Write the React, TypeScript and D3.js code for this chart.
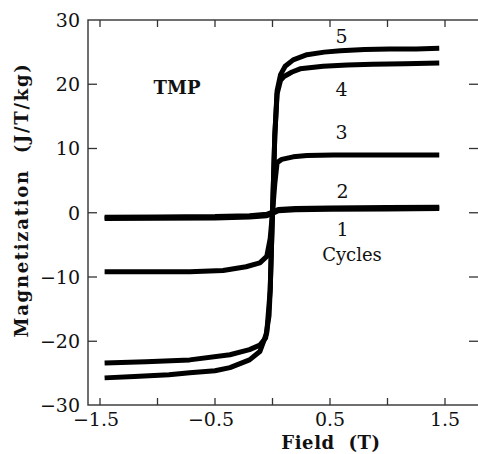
import React from 'react';
import * as d3 from 'd3';

// cycle 5
const field5 = [-1.46, -1.2, -0.9, -0.72, -0.5, -0.37, -0.2, -0.11, -0.05, -0.02, -0.01, 0, 0.01, 0.02, 0.04, 0.07, 0.11, 0.18, 0.3, 0.45, 0.59, 0.8, 1.02, 1.25, 1.45];
const mag5 = [-25.7, -25.5, -25.2, -24.9, -24.6, -24.1, -22.9, -21.6, -18.7, -12, -6, 0, 6, 12, 19, 21.5, 22.8, 23.8, 24.6, 25.0, 25.2, 25.4, 25.5, 25.5, 25.6];
// cycle 4
const field4 = [-1.46, -1.1, -0.72, -0.37, -0.2, -0.11, -0.06, -0.03, -0.02, -0.01, 0, 0.01, 0.02, 0.04, 0.07, 0.1, 0.17, 0.24, 0.44, 0.65, 0.87, 1.15, 1.45];
const mag4 = [-23.4, -23.2, -22.9, -22.1, -21.3, -20.6, -19.5, -16, -12, -6, 0, 6, 12, 18.5, 20.6, 21.2, 21.9, 22.4, 22.8, 23.0, 23.1, 23.2, 23.3];
// cycle 3
const field3 = [-1.46, -1.1, -0.72, -0.43, -0.23, -0.11, -0.05, -0.02, 0, 0.02, 0.04, 0.08, 0.18, 0.3, 0.53, 0.9, 1.45];
const mag3 = [-9.2, -9.2, -9.2, -9.0, -8.4, -7.8, -6.8, -4, 0, 4.5, 7.8, 8.3, 8.7, 8.9, 9.0, 9.0, 9.0];
// cycles 1 and 2
const field12 = [-1.46, -1.0, -0.5, -0.2, -0.05, 0, 0.05, 0.2, 0.5, 1.0, 1.45];
const mag2 = [-0.7, -0.65, -0.6, -0.45, -0.25, 0.1, 0.5, 0.65, 0.75, 0.8, 0.85];
const mag1 = [-0.9, -0.85, -0.8, -0.65, -0.45, -0.1, 0.3, 0.45, 0.55, 0.6, 0.65];

const xTicks = [-1.5, -1.0, -0.5, 0, 0.5, 1.0, 1.5];
const xTickLabels = ['-1.5', '-0.5', '0.5', '1.5'];
const yTicks = [-30, -20, -10, 0, 10, 20, 30];

const curveLabels = ['5', '4', '3', '2', '1'];
const curveLabelPos = [[0.6, 27.5], [0.6, 19.2], [0.6, 12.5], [0.61, 3.3], [0.61, -2.6]];

const W = 478, H = 454;
const frame = { left: 88, right: 480, top: 20, bottom: 405 };

export default function App() {
  const x = d3.scaleLinear().domain([-1.5, 1.5]).range([100, 445]);
  const y = d3.scaleLinear().domain([-30, 30]).range([405.5, 20]);

  const line = d3.line<[number, number]>()
    .x(d => x(d[0]))
    .y(d => y(d[1]));

  const series: [number[], number[]][] = [
    [field5, mag5], [field4, mag4], [field3, mag3], [field12, mag2], [field12, mag1],
  ];

  const serif = '"DejaVu Serif", "Liberation Serif", serif';

  return (
    <svg width={W} height={H} style={{ position: 'absolute', left: 0, top: 0, background: '#fff' }}>
      {/* frame */}
      <rect x={frame.left} y={frame.top} width={frame.right - frame.left} height={frame.bottom - frame.top}
        fill="none" stroke="#333" strokeWidth={1.4} />

      {/* x ticks top and bottom */}
      {xTicks.map(t => (
        <g key={'xt' + t}>
          <line x1={x(t)} x2={x(t)} y1={frame.bottom} y2={frame.bottom - 7} stroke="#333" strokeWidth={1.3} />
          <line x1={x(t)} x2={x(t)} y1={frame.top} y2={frame.top + 7} stroke="#333" strokeWidth={1.3} />
        </g>
      ))}
      {xTickLabels.map(t => (
        <text key={'xl' + t} x={x(+t) + (t.startsWith('-') ? -4 : 0)} y={426} textAnchor="middle"
          fontFamily={serif} fontSize={19} fill="#111">{t.replace('-', '\u2212')}</text>
      ))}

      {/* y ticks left and right */}
      {yTicks.map(t => (
        <g key={'yt' + t}>
          {t > -30 && t < 30 && <line x1={frame.left} x2={frame.left + 9} y1={y(t)} y2={y(t)} stroke="#333" strokeWidth={1.3} />}
          {t > -30 && t < 30 && <line x1={469} x2={478} y1={y(t)} y2={y(t)} stroke="#333" strokeWidth={1.3} />}
          <text x={80} y={y(t)} dy="0.36em" textAnchor="end" fontFamily={serif} fontSize={19} fill="#111">
            {String(t).replace('-', '\u2212')}
          </text>
        </g>
      ))}

      {/* curves */}
      {series.map(([f, m], i) => (
        <path key={'c' + i} d={line(f.map((v, j) => [v, m[j]] as [number, number])) || ''}
          fill="none" stroke="#000" strokeWidth={5} strokeLinejoin="round" />
      ))}

      {/* curve labels */}
      {curveLabels.map((l, i) => (
        <text key={'cl' + l} x={x(curveLabelPos[i][0])} y={y(curveLabelPos[i][1])} dy="0.36em" textAnchor="middle"
          fontFamily={serif} fontSize={19} fill="#111">{l}</text>
      ))}
      <text x={352} y={255} dy="0.36em" textAnchor="middle" fontFamily={serif} fontSize={18} fill="#111">Cycles</text>
      <text x={177} y={88} dy="0.36em" textAnchor="middle" fontFamily={serif} fontSize={18} fontWeight="bold" fill="#111">TMP</text>

      {/* axis titles */}
      <text x={331} y={443} dy="0.36em" textAnchor="middle" fontFamily={serif} fontSize={18} fontWeight="bold"
        letterSpacing={0.6} fill="#111" style={{ whiteSpace: 'pre' }}>{'Field  (T)'}</text>
      <text transform="translate(22,200) rotate(-90)" textAnchor="middle" dy="0.36em" fontFamily={serif}
        fontSize={18} fontWeight="bold" letterSpacing={1.7} fill="#111" style={{ whiteSpace: 'pre' }}>{'Magnetization  (J/T/kg)'}</text>
    </svg>
  );
}
